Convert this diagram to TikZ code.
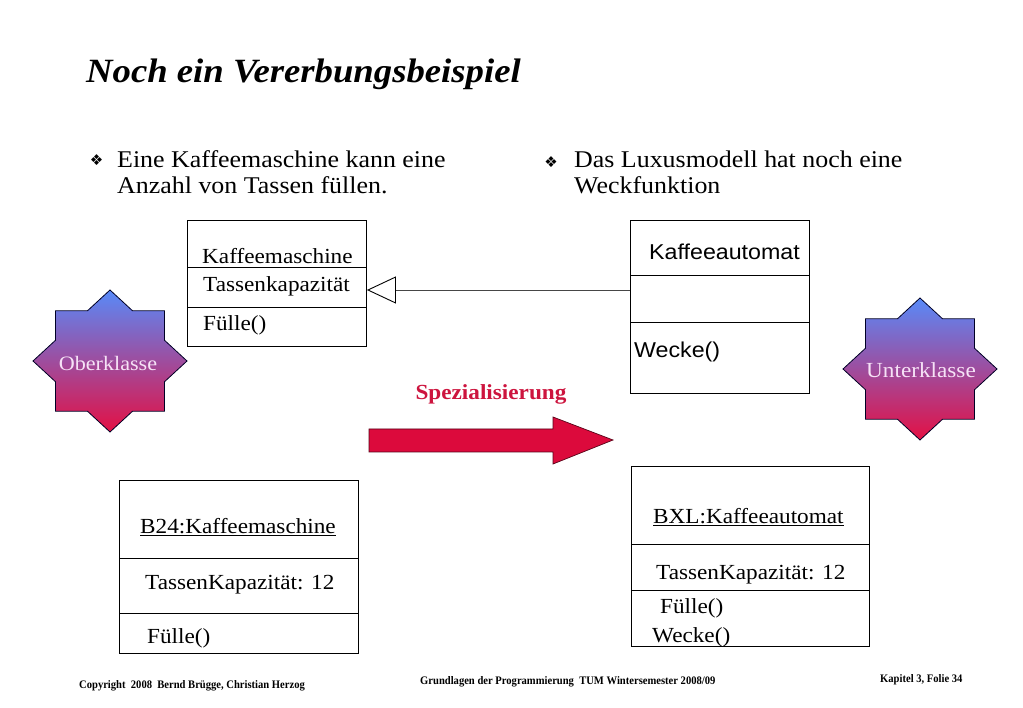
\documentclass[tikz,border=0pt]{standalone}
\usepackage{fontspec}
\setmainfont{Liberation Serif}[FakeStretch=1.08]
\setsansfont{Liberation Sans}[FakeStretch=1.08]
\newfontfamily\symfont{DejaVu Sans}
\newfontfamily\footfont{Liberation Serif}[FakeStretch=0.92]
\usetikzlibrary{arrows.meta}
\definecolor{spzred}{RGB}{220,10,60}
\definecolor{spztext}{RGB}{205,20,62}
\definecolor{startop}{RGB}{88,138,248}
\definecolor{starmid}{RGB}{160,92,190}
\definecolor{starbot}{RGB}{228,16,68}
\definecolor{starlabel}{RGB}{246,226,246}
\definecolor{inhgray}{RGB}{70,70,70}
\begin{document}
\begin{tikzpicture}[x=1pt,y=-1pt,
  txt/.style={inner sep=0pt, anchor=base west},
  bulletfont/.style={font=\fontsize{24}{26}\selectfont},
  boxtxt/.style={txt, font=\fontsize{21.5}{24}\selectfont},
  boxsans/.style={txt, font=\sffamily\fontsize{21.5}{24}\selectfont},
  umlbox/.style={draw, line width=0.9pt, inner sep=0pt, anchor=north west},
  sep/.style={line width=0.9pt},
  symb/.style={inner sep=0pt, font=\symfont\fontsize{15}{15}\selectfont},
  footer/.style={txt, font=\footfont\bfseries\fontsize{11.5}{12}\selectfont},
  starshape/.style={top color=startop, middle color=starmid, bottom color=starbot, draw=black!85!blue, line width=0.8pt},
  starlbl/.style={inner sep=0pt, anchor=base, text=starlabel},
]
\fill[white] (0,0) rectangle (1023,708);
\useasboundingbox (0,0) rectangle (1023,708);

% title
\node[txt, font=\fontsize{34}{36}\selectfont\bfseries\itshape] (title) at (86,83) {Noch ein Vererbungsbeispiel};

% bullets
\node[symb] (s1) at (96.5,160) {❖};
\node[txt, bulletfont] (b1a) at (117,168) {Eine Kaffeemaschine kann eine};
\node[txt, bulletfont] (b1b) at (117,194) {Anzahl von Tassen füllen.};
\node[symb] (s2) at (551,162) {❖};
\node[txt, bulletfont] (b2a) at (574,168) {Das Luxusmodell hat noch eine};
\node[txt, bulletfont] (b2b) at (574,194) {Weckfunktion};

% class Kaffeemaschine
\node[umlbox, minimum width=179pt, minimum height=126pt] (km) at (187,220) {};
\draw[sep] (187,267) -- (366,267);
\draw[sep] (187,307) -- (366,307);
\node[boxtxt] (kmname) at (202,264) {Kaffeemaschine};
\node[boxtxt] (kmattr) at (203,292) {Tassenkapazität};
\node[boxtxt] (kmop) at (203,331) {Fülle()};

% class Kaffeeautomat
\node[umlbox, minimum width=179pt, minimum height=173pt] (ka) at (630,220) {};
\draw[sep] (630,275) -- (809,275);
\draw[sep] (630,322) -- (809,322);
\node[boxsans] (kaname) at (649,260) {Kaffeeautomat};
\node[boxsans] (kaop) at (634,358) {Wecke()};

% inheritance
\coordinate (inhY) at (0,290);
\draw[inhgray, line width=0.9pt, -{Triangle[open, length=29pt, width=27pt, color=black]}] (ka.west |- inhY) -- (km.east |- inhY);

% stars
\begin{scope}[shift={(110,361)}, x=77pt, y=-71pt]
\shade[starshape] (1,0) -- (0.7071,0.2929) -- (0.7071,0.7071) -- (0.2929,0.7071) -- (0,1) -- (-0.2929,0.7071) -- (-0.7071,0.7071) -- (-0.7071,0.2929) -- (-1,0) -- (-0.7071,-0.2929) -- (-0.7071,-0.7071) -- (-0.2929,-0.7071) -- (0,-1) -- (0.2929,-0.7071) -- (0.7071,-0.7071) -- (0.7071,-0.2929) -- cycle;
\end{scope}
\node[starlbl, font=\fontsize{20.5}{22}\selectfont] (ober) at (108,371) {Oberklasse};

\begin{scope}[shift={(920,369)}, x=77pt, y=-71pt]
\shade[starshape] (1,0) -- (0.7071,0.2929) -- (0.7071,0.7071) -- (0.2929,0.7071) -- (0,1) -- (-0.2929,0.7071) -- (-0.7071,0.7071) -- (-0.7071,0.2929) -- (-1,0) -- (-0.7071,-0.2929) -- (-0.7071,-0.7071) -- (-0.2929,-0.7071) -- (0,-1) -- (0.2929,-0.7071) -- (0.7071,-0.7071) -- (0.7071,-0.2929) -- cycle;
\end{scope}
\node[starlbl, font=\fontsize{21.5}{22}\selectfont] (unter) at (921,378) {Unterklasse};

% Spezialisierung
\node[inner sep=0pt, anchor=base, text=spztext, font=\fontsize{21.5}{24}\selectfont\bfseries] (spz) at (491,400) {Spezialisierung};
\draw[fill=spzred, draw=black!60!spzred, line width=0.7pt] (369,429) -- (553,429) -- (553,417) -- (613,440) -- (553,464) -- (553,452) -- (369,452) -- cycle;

% object B24
\node[umlbox, minimum width=239pt, minimum height=173pt] (b24) at (119,480) {};
\draw[sep] (119,558) -- (358,558);
\draw[sep] (119,613) -- (358,613);
\node[boxtxt] (b24name) at (140,533) {\underline{B24:Kaffeemaschine}};
\node[boxtxt] (b24attr) at (145,589) {TassenKapazität: 12};
\node[boxtxt] (b24op) at (147,643) {Fülle()};

% object BXL
\node[umlbox, minimum width=238pt, minimum height=180pt] (bxl) at (631,466) {};
\draw[sep] (631,544) -- (869,544);
\draw[sep] (631,590) -- (869,590);
\node[boxtxt] (bxlname) at (653,523) {\underline{BXL:Kaffeeautomat}};
\node[boxtxt] (bxlattr) at (656,579) {TassenKapazität: 12};
\node[boxtxt] (bxlop1) at (660,613) {Fülle()};
\node[boxtxt] (bxlop2) at (652,642) {Wecke()};

% footer
\node[footer] (f1) at (79,688) {Copyright\ \ 2008\ \ Bernd Brügge, Christian Herzog};
\node[footer] (f2) at (420,684) {Grundlagen der Programmierung\ \ TUM Wintersemester 2008/09};
\node[footer] (f3) at (880,682) {Kapitel 3, Folie 34};
\end{tikzpicture}
\end{document}
